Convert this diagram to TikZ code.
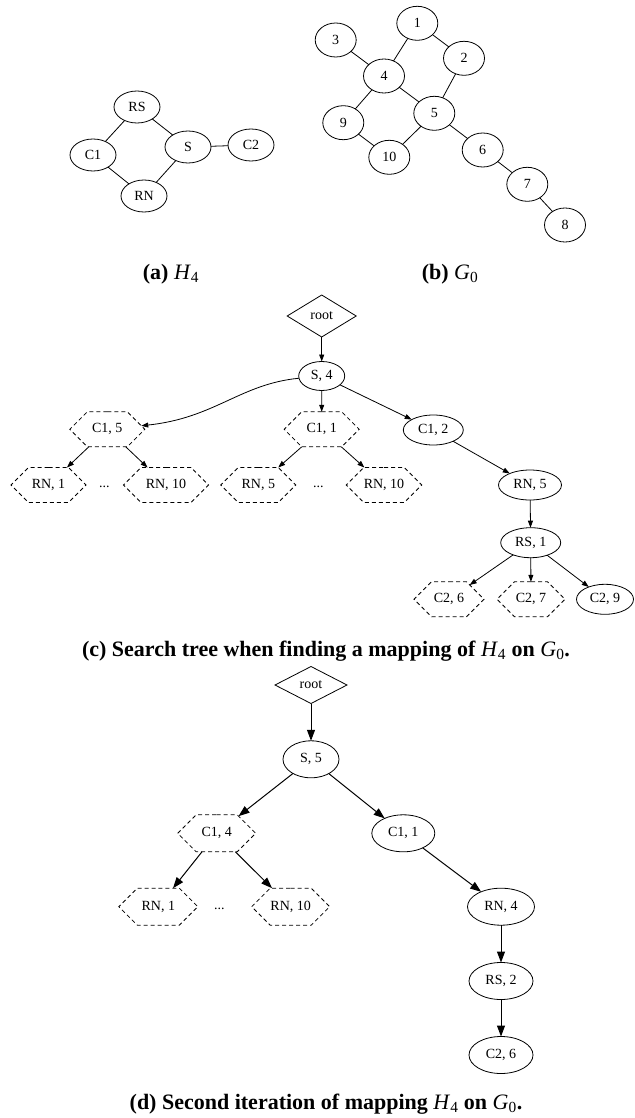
\documentclass[tikz,border=0pt]{standalone}
\usepackage{fontspec}
\setmainfont{Liberation Serif}
\usetikzlibrary{shapes.geometric,shapes.symbols,arrows.meta}
\begin{document}
\begin{tikzpicture}[x=1pt,y=-1pt,
  every node/.style={font=\fontsize{14}{16}\selectfont, inner sep=0pt, outer sep=0pt},
  gva/.style={draw, ellipse, line width=0.8pt, minimum width=46pt, minimum height=32pt},
  gvb/.style={draw, ellipse, line width=0.8pt, minimum width=41pt, minimum height=34pt},
  ed/.style={line width=0.8pt},
  tell/.style={draw, ellipse, line width=0.8pt},
  thex/.style={draw, signal, signal to=west and east, signal pointer angle=90,
               dash pattern=on 4pt off 3pt, line width=0.8pt},
  troot/.style={draw, diamond, line width=0.8pt},
  arrc/.style={-{Triangle[length=7pt,width=5pt]}, line width=0.8pt},
  arrd/.style={-{Triangle[length=11pt,width=8pt]}, line width=1pt},
  captxt/.style={font=\fontsize{22}{24}\selectfont\bfseries, anchor=base},
  dotsty/.style={font=\fontsize{14}{16}\selectfont}
]
\useasboundingbox (0,0) rectangle (634,1118);

% ---------- (a) H4
\node[gva] (RS) at (137,107) {RS};
\node[gva] (C1) at (93,155) {C1};
\node[gva] (S)  at (188,147) {S};
\node[gva] (C2) at (251,145) {C2};
\node[gva] (RN) at (144,196) {RN};
\draw[ed] (RS) -- (C1);
\draw[ed] (RS) -- (S);
\draw[ed] (C1) -- (RN);
\draw[ed] (S) -- (RN);
\draw[ed] (S) -- (C2);

% ---------- (b) G0
\node[gvb] (g1)  at (417.3,23.3)  {1};
\node[gvb] (g2)  at (464,58.3)    {2};
\node[gvb] (g3)  at (335.7,40)    {3};
\node[gvb] (g4)  at (384,76)      {4};
\node[gvb] (g5)  at (434.3,113.3) {5};
\node[gvb] (g6)  at (482.7,150)   {6};
\node[gvb] (g7)  at (527.3,184.3) {7};
\node[gvb] (g8)  at (565,225)     {8};
\node[gvb] (g9)  at (343.3,122.7) {9};
\node[gvb] (g10) at (389.3,157.3) {10};
\draw[ed] (g3) -- (g4);
\draw[ed] (g1) -- (g4);
\draw[ed] (g1) -- (g2);
\draw[ed] (g2) -- (g5);
\draw[ed] (g4) -- (g5);
\draw[ed] (g4) -- (g9);
\draw[ed] (g9) -- (g10);
\draw[ed] (g10) -- (g5);
\draw[ed] (g5) -- (g6);
\draw[ed] (g6) -- (g7);
\draw[ed] (g7) -- (g8);

\node[captxt] (capa) at (171,279) {(a) \textnormal{\itshape H}\textsubscript{\textnormal{4}}};
\node[captxt] (capb) at (450,279) {(b) \textnormal{\itshape G}\textsubscript{\textnormal{0}}};

% ---------- (c) search tree
\node[troot, minimum width=69pt, minimum height=42pt] (rootc) at (321.7,316) {root};
\node[tell, minimum width=46pt, minimum height=29pt] (s4) at (321.7,376) {S, 4};
\node[thex, minimum width=75pt, minimum height=35pt] (c15) at (107.3,429.3) {C1, 5};
\node[thex, minimum width=75pt, minimum height=35pt] (c11) at (321.7,429.3) {C1, 1};
\node[tell, minimum width=60pt, minimum height=30pt] (c12) at (433.3,430) {C1, 2};
\node[thex, minimum width=75pt, minimum height=35pt] (rn1) at (48.5,485) {RN, 1};
\node[dotsty] (dotsA) at (104.3,487) {...};
\node[thex, minimum width=85pt, minimum height=35pt] (rn10a) at (166,485) {RN, 10};
\node[thex, minimum width=75pt, minimum height=35pt] (rn5h) at (258.3,485) {RN, 5};
\node[dotsty] (dotsB) at (318.3,487) {...};
\node[thex, minimum width=74pt, minimum height=35pt] (rn10b) at (384,485) {RN, 10};
\node[tell, minimum width=63pt, minimum height=30pt] (rn5) at (530,485) {RN, 5};
\node[tell, minimum width=60pt, minimum height=30pt] (rs1) at (530.7,542.7) {RS, 1};
\node[thex, minimum width=70pt, minimum height=35pt] (c26) at (449,599.3) {C2, 6};
\node[thex, minimum width=68pt, minimum height=35pt] (c27) at (531,599.3) {C2, 7};
\node[tell, minimum width=57pt, minimum height=30pt] (c29) at (605,599.3) {C2, 9};

\draw[arrc] (rootc) -- (s4);
\draw[arrc] (s4) .. controls (240,384) and (215,418) .. (c15);
\draw[arrc] (s4) -- (c11);
\draw[arrc] (s4) -- (c12);
\draw[arrc] (c15) -- (rn1);
\draw[arrc] (c15) -- (rn10a);
\draw[arrc] (c11) -- (rn5h);
\draw[arrc] (c11) -- (rn10b);
\draw[arrc] (c12) -- (rn5);
\draw[arrc] (rn5) -- (rs1);
\draw[arrc] (rs1) -- (c26);
\draw[arrc] (rs1) -- (c27);
\draw[arrc] (rs1) -- (c29);

\node[captxt] (capc) at (326,656) {(c) Search tree when finding a mapping of \textnormal{\itshape H}\textsubscript{\textnormal{4}} on \textnormal{\itshape G}\textsubscript{\textnormal{0}}.};

% ---------- (d) second iteration
\node[troot, minimum width=72pt, minimum height=37pt] (rootd) at (311,685) {root};
\node[tell, minimum width=56pt, minimum height=37pt] (s5) at (311,759.3) {S, 5};
\node[thex, minimum width=78pt, minimum height=37pt] (c14) at (216.7,833.3) {C1, 4};
\node[tell, minimum width=63pt, minimum height=37pt] (c11d) at (403.3,833.3) {C1, 1};
\node[thex, minimum width=79pt, minimum height=37pt] (rn1d) at (158.3,906.7) {RN, 1};
\node[dotsty] (dotsC) at (219.3,909.3) {...};
\node[thex, minimum width=78pt, minimum height=37pt] (rn10d) at (290.7,906.7) {RN, 10};
\node[tell, minimum width=67pt, minimum height=37pt] (rn4) at (501,906.7) {RN, 4};
\node[tell, minimum width=64pt, minimum height=37pt] (rs2) at (501,981) {RS, 2};
\node[tell, minimum width=64pt, minimum height=37pt] (c26d) at (501,1055) {C2, 6};

\draw[arrd] (rootd) -- (s5);
\draw[arrd] (s5) -- (c14);
\draw[arrd] (s5) -- (c11d);
\draw[arrd] (c14) -- (rn1d);
\draw[arrd] (c14) -- (rn10d);
\draw[arrd] (c11d) -- (rn4);
\draw[arrd] (rn4) -- (rs2);
\draw[arrd] (rs2) -- (c26d);

\node[captxt] (capd) at (326,1109) {(d) Second iteration of mapping \textnormal{\itshape H}\textsubscript{\textnormal{4}} on \textnormal{\itshape G}\textsubscript{\textnormal{0}}.};
\end{tikzpicture}
\end{document}
